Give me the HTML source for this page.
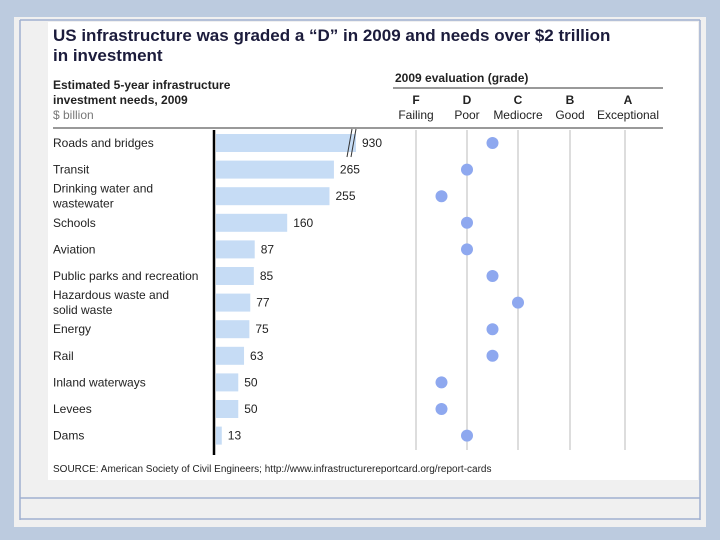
<!DOCTYPE html>
<html><head><meta charset="utf-8"><style>
body{margin:0;width:720px;height:540px;background:#bccbdf;font-family:"Liberation Sans",sans-serif;overflow:hidden;position:relative}
</style></head><body>
<div style="position:absolute;left:14px;top:17px;width:692px;height:510px;background:#f0f0f0"></div>
<svg width="720" height="540" style="position:absolute;left:0;top:0">
<g stroke="#9fb0d0" stroke-width="1.5" fill="none">
<line x1="20" y1="20" x2="20" y2="520"/><line x1="700" y1="20" x2="700" y2="520"/>
<line x1="20" y1="498" x2="700" y2="498"/><line x1="20" y1="519" x2="700" y2="519"/>
<line x1="20" y1="20" x2="700" y2="20"/>
</g>
<rect x="48" y="22" width="650" height="458" fill="#fff"/>
<text x="53" y="41" font-size="17" font-weight="bold" fill="#1c1c3c">US infrastructure was graded a “D” in 2009 and needs over $2 trillion</text>
<text x="53" y="61" font-size="17" font-weight="bold" fill="#1c1c3c">in investment</text>
<text x="53" y="89" font-size="12" font-weight="bold" fill="#222">Estimated 5-year infrastructure</text>
<text x="53" y="104" font-size="12" font-weight="bold" fill="#222">investment needs, 2009</text>
<text x="53" y="119" font-size="12" fill="#777">$ billion</text>
<text x="395" y="82" font-size="12" font-weight="bold" fill="#222">2009 evaluation (grade)</text>
<line x1="393" y1="88" x2="663" y2="88" stroke="#333"/>
<line x1="53" y1="128" x2="663" y2="128" stroke="#333"/>
<line x1="214" y1="130" x2="214" y2="455" stroke="#000" stroke-width="2.5"/>
<g id="g"></g>
<text x="53" y="472" font-size="10" fill="#222">SOURCE: American Society of Civil Engineers; http://www.infrastructurereportcard.org/report-cards</text>
</svg>
<script>
const categories=["Roads and bridges","Transit","Drinking water and|wastewater","Schools","Aviation","Public parks and recreation","Hazardous waste and|solid waste","Energy","Rail","Inland waterways","Levees","Dams"];
const needs=[930,265,255,160,87,85,77,75,63,50,50,13];
const grades=[1.5,1,0.5,1,1,1.5,2,1.5,1.5,0.5,0.5,1];
const gradeLetters=["F","D","C","B","A"];
const gradeNames=["Failing","Poor","Mediocre","Good","Exceptional"];
const NS="http://www.w3.org/2000/svg",g=document.getElementById('g');
const colX=[416,467,518,570,628],lineX=[416,467,518,570,625];
function gx(v){const i=Math.floor(v),f=v-i;return i>=4?colX[4]:colX[i]+(colX[i+1]-colX[i])*f;}
function bw(v){return Math.min(v,320)*0.445;}
function ry(i){return 143+i*26.6;}
function mk(t,a){const e=document.createElementNS(NS,t);for(const k in a)e.setAttribute(k,a[k]);g.appendChild(e);return e;}
lineX.forEach((x,i)=>{const l=mk('line',{x1:x,y1:130,x2:x,y2:450,stroke:'#bbb'});


const t=mk('text',{x:colX[i],y:104,'font-size':12,'font-weight':'bold','text-anchor':'middle',fill:'#222'});t.textContent=gradeLetters[i];


const n=mk('text',{x:colX[i],y:119,'font-size':12,'text-anchor':'middle',fill:'#222'});n.textContent=gradeNames[i];

});
categories.forEach((c,i)=>{const y=ry(i);const parts=c.split('|');
parts.forEach((p,j)=>{const t=mk('text',{x:53,y:y+4+(parts.length>1?(j-0.5)*15:0),'font-size':12,fill:'#222'});t.textContent=p;

});
const w=needs[i]>320?140:bw(needs[i]);
const r=mk('rect',{x:216,y:y-9,width:w,height:18,fill:'#c6dcf5'});


if(needs[i]>320){mk('line',{x1:347,y1:y+14,x2:352,y2:y-14,stroke:'#333'});mk('line',{x1:351,y1:y+14,x2:356,y2:y-14,stroke:'#333'});}
const v=mk('text',{x:216+w+6,y:y+4,'font-size':12,fill:'#222'});v.textContent=needs[i];


const d=mk('circle',{cx:gx(grades[i]),cy:y,r:6,fill:'#8ea8ef'});

});
</script>
</body></html>
